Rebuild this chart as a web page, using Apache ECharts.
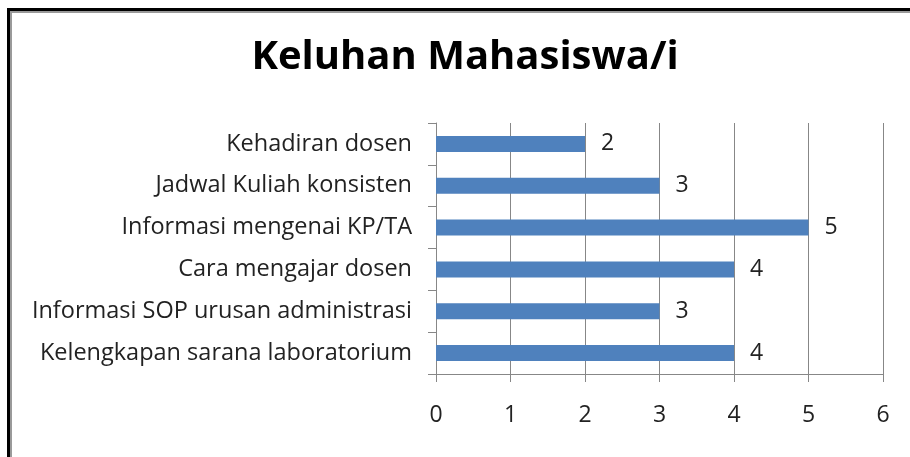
<!DOCTYPE html>
<html>
<head>
<meta charset="utf-8">
<script src="https://cdn.jsdelivr.net/npm/echarts@6/dist/echarts.min.js"></script>
<style>
  html, body { margin: 0; padding: 0; background: #fff; }
  .frame { position: absolute; left: 7px; top: 8px; width: 910px; height: 460px;
    border-left: 3px solid #000; border-top: 3px solid #000; }
  .frame-inner { position: absolute; left: 0; top: 0; width: 100%; height: 100%;
    border-left: 2px solid #9a9a9a; border-top: 2px solid #9a9a9a; }
  #chart { position: absolute; left: 0; top: 0; width: 910px; height: 457px; }
</style>
</head>
<body>
<div class="frame"><div class="frame-inner"></div></div>
<div id="chart"></div>
<script>
// data, bottom-to-top order as drawn by the category axis
const categories = [
  'Kelengkapan sarana laboratorium',
  'Informasi SOP urusan administrasi',
  'Cara mengajar dosen',
  'Informasi mengenai KP/TA',
  'Jadwal Kuliah konsisten',
  'Kehadiran dosen'
];
const values = [4, 3, 4, 5, 3, 2];
const xTicks = [0, 1, 2, 3, 4, 5, 6];

const font = '"Open Sans", sans-serif';
const gridColor = '#878787';

let chartDom = document.getElementById('chart');
let myChart = echarts.init(chartDom, null, { renderer: 'canvas' });
let option = {
  backgroundColor: 'transparent',
  animation: false,
  title: {
    text: 'Keluhan Mahasiswa/i',
    left: 460,
    top: 33,
    textAlign: 'center',
    textStyle: { fontFamily: font, fontWeight: 'bold', fontSize: 40, color: '#000' }
  },
  grid: { left: 436, right: 27, top: 123, bottom: 83 },
  xAxis: {
    type: 'value',
    min: xTicks[0],
    max: xTicks[xTicks.length - 1],
    interval: 1,
    axisLine: { show: true, lineStyle: { color: gridColor, width: 1 } },
    axisTick: { show: true, length: 8, lineStyle: { color: gridColor } },
    axisLabel: { margin: 30, fontFamily: font, fontSize: 23, color: '#222' },
    splitLine: { show: true, lineStyle: { color: gridColor, width: 1 } }
  },
  yAxis: {
    type: 'category',
    data: categories,
    axisLine: { show: true, lineStyle: { color: gridColor, width: 1 } },
    axisTick: { show: true, length: 8, lineStyle: { color: gridColor } },
    axisLabel: { margin: 24, fontFamily: font, fontSize: 23.5, color: '#222', padding: [5, 0, 0, 0] },
    splitLine: { show: false }
  },
  series: [{
    type: 'bar',
    data: values,
    barWidth: 16,
    itemStyle: { color: '#4F81BD' },
    label: {
      show: true,
      position: 'right',
      distance: 16,
      padding: [5, 0, 0, 0],
      fontFamily: font,
      fontSize: 23,
      color: '#222'
    }
  }]
};
option && myChart.setOption(option);
</script>
</body>
</html>
